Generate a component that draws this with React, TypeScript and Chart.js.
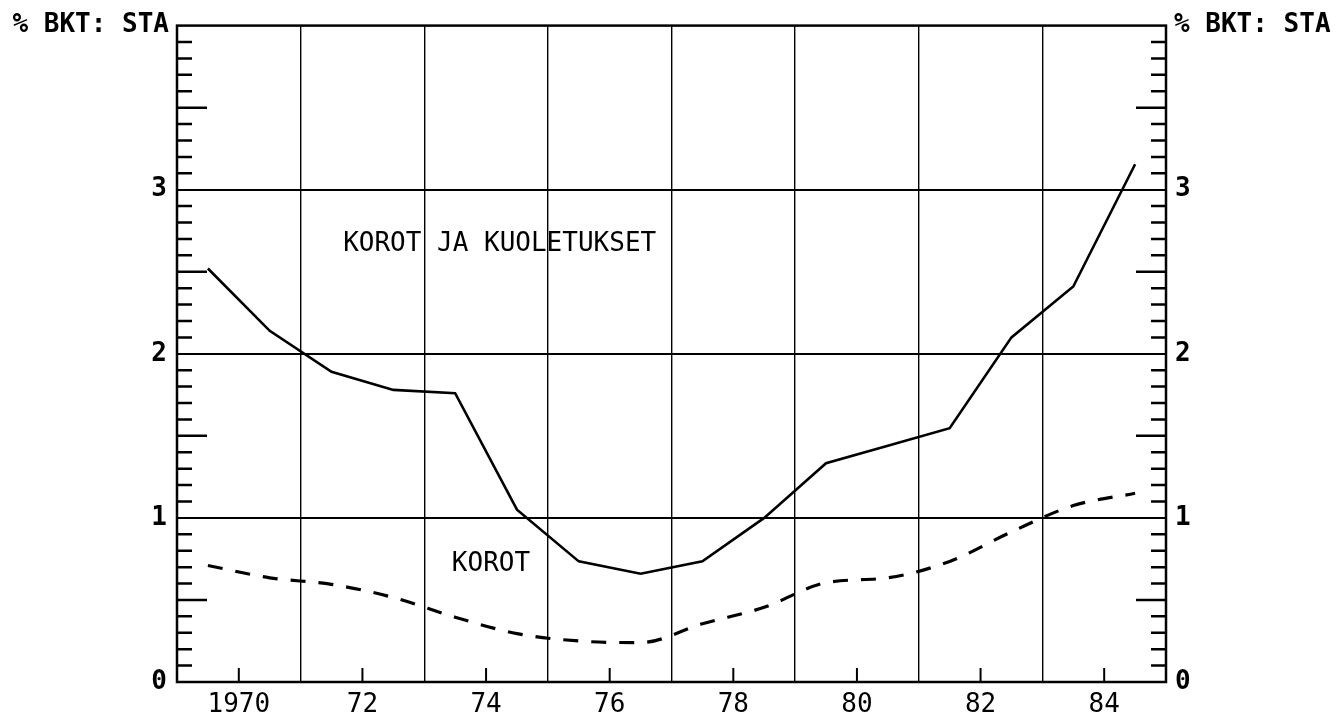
import React, { useEffect, useRef } from "react";
import { Chart, registerables } from "chart.js";

Chart.register(...registerables);

// ---- data ----
const years = [1969, 1970, 1971, 1972, 1973, 1974, 1975, 1976, 1977, 1978, 1979, 1980, 1981, 1982, 1983, 1984];
const korotJaKuoletukset = [2.52, 2.14, 1.89, 1.78, 1.76, 1.05, 0.735, 0.66, 0.735, 1.0, 1.333, 1.44, 1.547, 2.1, 2.41, 3.155];
const korot = [0.71, 0.635, 0.595, 0.515, 0.395, 0.295, 0.25, 0.24, 0.355, 0.455, 0.605, 0.635, 0.735, 0.915, 1.075, 1.15];
const xTickYears = [1970, 1972, 1974, 1976, 1978, 1980, 1982, 1984];
const xTickLabels = ["1970", "72", "74", "76", "78", "80", "82", "84"];
const yTickValues = [0, 1, 2, 3];
const yTickLabels = ["0", "1", "2", "3"];
const axisTitle = "% BKT: STA";
const seriesLabels = ["KOROT JA KUOLETUKSET", "KOROT"];
// label anchors in data units (x year, y value)
const labelAnchors = [
  { x: 1974.22, y: 2.665 },
  { x: 1974.08, y: 0.715 },
];

const FONT = '"DejaVu Sans Mono", monospace';

const decorPlugin = {
  id: "decor",
  afterDatasetsDraw(chart: any) {
    const { ctx, chartArea, scales } = chart;
    const xs = scales.x;
    const ys = scales.y;
    ctx.save();
    ctx.strokeStyle = "#000";
    ctx.lineCap = "butt";
    // inward x ticks
    ctx.lineWidth = 2;
    xs.ticks.forEach((t: any) => {
      if (xTickYears.indexOf(Math.round(t.value)) >= 0) {
        const px = xs.getPixelForValue(t.value);
        ctx.beginPath();
        ctx.moveTo(px, chartArea.bottom);
        ctx.lineTo(px, chartArea.bottom - 14);
        ctx.stroke();
      }
    });
    // inward y ticks on both sides
    ctx.lineWidth = 2.5;
    ys.ticks.forEach((t: any) => {
      const k = Math.round(t.value * 10);
      if (k <= 0 || k >= 40 || k % 10 === 0) return;
      const py = ys.getPixelForValue(t.value);
      const len = k % 5 === 0 ? 30 : 15;
      ctx.beginPath();
      ctx.moveTo(chartArea.left, py);
      ctx.lineTo(chartArea.left + len, py);
      ctx.moveTo(chartArea.right, py);
      ctx.lineTo(chartArea.right - len, py);
      ctx.stroke();
    });
    // frame
    ctx.lineWidth = 2.5;
    ctx.strokeRect(chartArea.left, chartArea.top, chartArea.right - chartArea.left, chartArea.bottom - chartArea.top);
    // texts
    ctx.fillStyle = "#000";
    ctx.font = "bold 26px " + FONT;
    ctx.textBaseline = "middle";
    ctx.textAlign = "right";
    ctx.fillText(axisTitle, chartArea.left - 8, chartArea.top);
    ctx.textAlign = "left";
    ctx.fillText(axisTitle, chartArea.right + 8, chartArea.top);
    ctx.font = "26px " + FONT;
    ctx.textAlign = "center";
    seriesLabels.forEach((s, i) => {
      const a = labelAnchors[i];
      ctx.fillText(s, xs.getPixelForValue(a.x), ys.getPixelForValue(a.y));
    });
    ctx.restore();
  },
};

export default function App() {
  const ref = useRef<HTMLCanvasElement | null>(null);
  useEffect(() => {
    if (!ref.current) return;
    const chart = new Chart(ref.current, {
      type: "line",
      data: {
        datasets: [
          {
            label: seriesLabels[0],
            data: years.map((y, i) => ({ x: y + 0.5, y: korotJaKuoletukset[i] })),
            borderColor: "#000",
            borderWidth: 2.6,
            pointRadius: 0,
            tension: 0,
            fill: false,
          },
          {
            label: seriesLabels[1],
            data: years.map((y, i) => ({ x: y + 0.5, y: korot[i] })),
            borderColor: "#000",
            borderWidth: 3.2,
            borderDash: [15, 13],
            pointRadius: 0,
            cubicInterpolationMode: "monotone",
            fill: false,
          },
        ],
      },
      options: {
        animation: false,
        responsive: false,
        devicePixelRatio: 1,
        layout: { padding: { top: 23, left: 0, right: 0, bottom: 0 } },
        plugins: { legend: { display: false }, tooltip: { enabled: false } },
        scales: {
          x: {
            type: "linear",
            position: "bottom",
            min: 1969,
            max: 1985,
            afterFit: (s: any) => { s.height = 35; },
            ticks: {
              stepSize: 1,
              autoSkip: false,
              maxRotation: 0,
              padding: 8,
              color: "#000",
              font: { family: FONT, size: 26 },
              callback: (v: any) => {
                const i = xTickYears.indexOf(Math.round(Number(v)));
                return i >= 0 ? xTickLabels[i] : "";
              },
            },
            grid: {
              drawTicks: false,
              color: (c: any) => (c.tick && Math.round(c.tick.value) % 2 === 1 ? "#000" : "rgba(0,0,0,0)"),
              lineWidth: 1.4,
            },
            border: { display: false },
          },
          y: {
            type: "linear",
            position: "left",
            min: 0,
            max: 4,
            afterFit: (s: any) => { s.width = 177; },
            ticks: {
              stepSize: 0.1,
              autoSkip: false,
              padding: 10,
              color: "#000",
              font: { family: FONT, size: 26, weight: "bold" },
              callback: (v: any) => {
                const n = Number(v);
                const i = yTickValues.findIndex((t) => Math.abs(t - n) < 1e-6);
                return i >= 0 ? yTickLabels[i] : "";
              },
            },
            grid: {
              drawTicks: false,
              color: (c: any) => {
                const k = c.tick ? Math.round(c.tick.value * 10) : 0;
                return k > 0 && k < 40 && k % 10 === 0 ? "#000" : "rgba(0,0,0,0)";
              },
              lineWidth: 2,
            },
            border: { display: false },
          },
          yRight: {
            type: "linear",
            position: "right",
            min: 0,
            max: 4,
            afterFit: (s: any) => { s.width = 171; },
            ticks: {
              stepSize: 0.1,
              autoSkip: false,
              padding: 9,
              color: "#000",
              font: { family: FONT, size: 26, weight: "bold" },
              callback: (v: any) => {
                const n = Number(v);
                const i = yTickValues.findIndex((t) => Math.abs(t - n) < 1e-6);
                return i >= 0 ? yTickLabels[i] : "";
              },
            },
            grid: { drawTicks: false, drawOnChartArea: false },
            border: { display: false },
          },
        },
      },
      plugins: [decorPlugin],
    });
    return () => chart.destroy();
  }, []);
  return (
    <div style={{ position: "fixed", left: 0, top: 0, width: 1337, height: 717, background: "#fff" }}>
      <canvas ref={ref} width={1337} height={717} style={{ display: "block" }} />
    </div>
  );
}
